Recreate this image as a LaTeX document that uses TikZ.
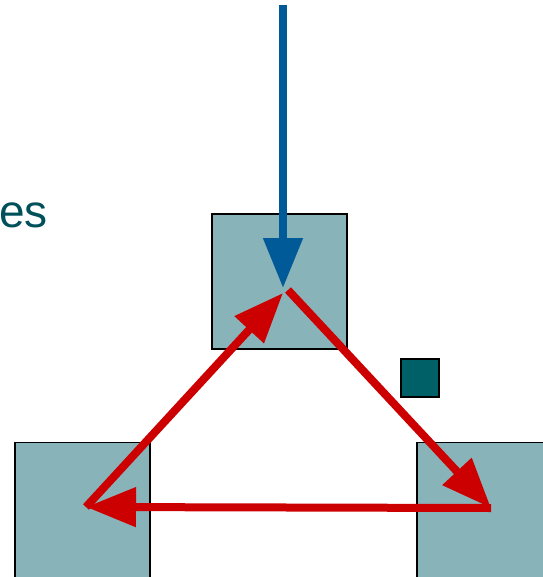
\documentclass[tikz,border=0pt]{standalone}
\usepackage{fontspec}
\setmainfont{Liberation Sans}
\usetikzlibrary{arrows.meta}
\definecolor{kasten}{RGB}{136,179,184}
\definecolor{petrol}{RGB}{0,96,104}
\definecolor{schrift}{RGB}{0,80,90}
\definecolor{blau}{RGB}{0,90,152}
\definecolor{rot}{RGB}{204,0,0}
\tikzset{
    box/.style={draw=black, line width=1.5pt, fill=kasten, minimum size=135pt, inner sep=0pt},
    mini/.style={draw=black, line width=1.5pt, fill=petrol, minimum size=38pt, inner sep=0pt},
    pfeil/.style={line width=8pt, -{Triangle[length=50pt,width=38pt]}}
}

\begin{document}
\begin{tikzpicture}[x=1pt, y=-1pt]
\useasboundingbox (0,0) rectangle (542,577);

% Kaesten
\node[box] (oben) at (279.5,281.5) {};
\node[box] (links) at (82.5,510) {};
\node[box] (rechts) at (484.5,510) {};
\node[mini] (klein) at (420,378) {};

% Text
\node[text=schrift, anchor=base west, inner sep=0pt, font=\fontsize{46}{46}\selectfont] (titel) at (-1,227) {es};

% Ecken des Dreiecks
\coordinate (A) at (288,290);
\coordinate (B) at (86,507);
\coordinate (C) at (491,508);
\coordinate (Q) at (283,5);

% Blauer Pfeil
\draw[pfeil, blau] (Q) -- (283,288);

% Rote Pfeile
\draw[pfeil, rot] (A) -- (C);
\draw[pfeil, rot] (C) -- (B);
\draw[pfeil, rot] (B) -- (283,293);
\end{tikzpicture}
\end{document}
